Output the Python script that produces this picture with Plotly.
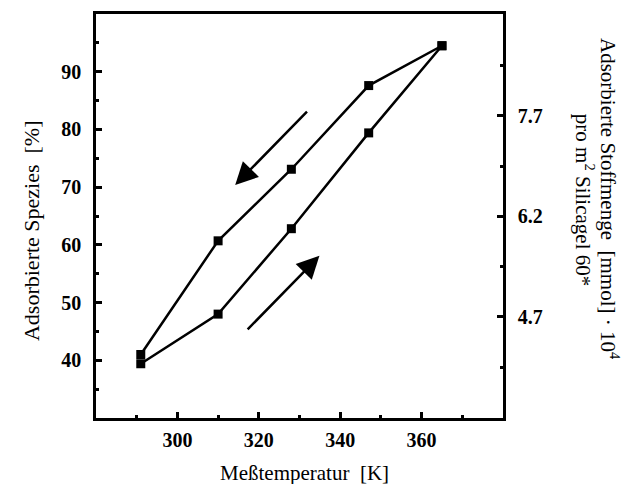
import plotly.graph_objects as go

# Data
temp_heat = [291, 310, 328, 347, 365]
ads_heat = [39.4, 48.0, 62.8, 79.4, 94.5]
temp_cool = [365, 347, 328, 310, 291]
ads_cool = [94.5, 87.6, 73.1, 60.7, 41.0]

x_ticks = [300, 320, 340, 360]
y_ticks = [40, 50, 60, 70, 80, 90]
y2_ticks = [4.7, 6.2, 7.7]
y2_tick_text = ["4.7", "6.2", "7.7"]
y2_minor = [3.95, 5.45, 6.95, 8.45]

# arrows: (tail_x, tail_y, head_x, head_y)
arrows = [
    (332.2, 83.35, 314.2, 70.35),
    (316.9, 45.1, 334.9, 58.1),
]

FONT = "Liberation Serif"
fig = go.Figure()
line_style = dict(color="black", width=2.5)
marker_style = dict(symbol="square", size=9, color="black")
fig.add_trace(go.Scatter(x=temp_heat, y=ads_heat, mode="lines+markers",
                         line=line_style, marker=marker_style, showlegend=False))
fig.add_trace(go.Scatter(x=temp_cool, y=ads_cool, mode="lines+markers",
                         line=line_style, marker=marker_style, showlegend=False))
fig.add_trace(go.Scatter(x=[None], y=[None], yaxis="y2", showlegend=False))

axis_common = dict(showline=True, linecolor="black", linewidth=2.5, ticks="inside",
                   ticklen=6, tickwidth=2.5, tickcolor="black", showgrid=False,
                   zeroline=False,
                   tickfont=dict(family=FONT, size=20, color="black", weight="bold"))

fig.update_layout(
    width=626, height=484,
    margin=dict(l=96, r=123, t=14, b=66),
    paper_bgcolor="white", plot_bgcolor="white",
    xaxis=dict(range=[280, 380], tickvals=x_ticks, mirror=True,
               minor=dict(tickvals=[290, 310, 330, 350, 370], ticks="inside", ticklen=3,
                          tickwidth=2.5, tickcolor="black"),
               ticklabelstandoff=2, **axis_common),
    yaxis=dict(range=[30, 100], tickvals=y_ticks,
               minor=dict(tickvals=[35, 45, 55, 65, 75, 85, 95], ticks="inside", ticklen=3,
                          tickwidth=2.5, tickcolor="black"),
               ticklabelstandoff=8, **axis_common),
    yaxis2=dict(range=[3.19, 9.22], tickvals=y2_ticks, ticktext=y2_tick_text,
                overlaying="y", side="right",
                minor=dict(tickvals=y2_minor, ticks="inside", ticklen=3,
                           tickwidth=2.5, tickcolor="black"),
                ticklabelstandoff=8, **axis_common),
)

annotations = []
for tx, ty, hx, hy in arrows:
    annotations.append(dict(x=hx, y=hy, ax=tx, ay=ty, xref="x", yref="y", axref="x", ayref="y",
                            showarrow=True, arrowhead=2, arrowsize=1.8, arrowwidth=2.5,
                            arrowcolor="black", text=""))

tfont = dict(family=FONT, size=21, color="black")
annotations += [
    dict(text="Meßtemperatur  [K]", x=0.5135, y=-0.136, xref="paper", yref="paper",
         showarrow=False, xanchor="center", yanchor="middle", font=tfont),
    dict(text="Adsorbierte Spezies  [%]", x=-0.16, y=0.465, xref="paper", yref="paper",
         showarrow=False, xanchor="center", yanchor="middle", textangle=-90,
         font=dict(family=FONT, size=22, color="black")),
    dict(text="Adsorbierte Stoffmenge  [mmol] · 10<sup>4</sup>", x=1.263, y=0.542,
         xref="paper", yref="paper", showarrow=False, xanchor="center", yanchor="middle",
         textangle=90, font=tfont),
    dict(text="pro m<sup>2</sup> Silicagel 60*", x=1.199, y=0.540,
         xref="paper", yref="paper", showarrow=False, xanchor="center", yanchor="middle",
         textangle=90, font=tfont),
]
fig.update_layout(annotations=annotations)

fig.write_html("out.html")
